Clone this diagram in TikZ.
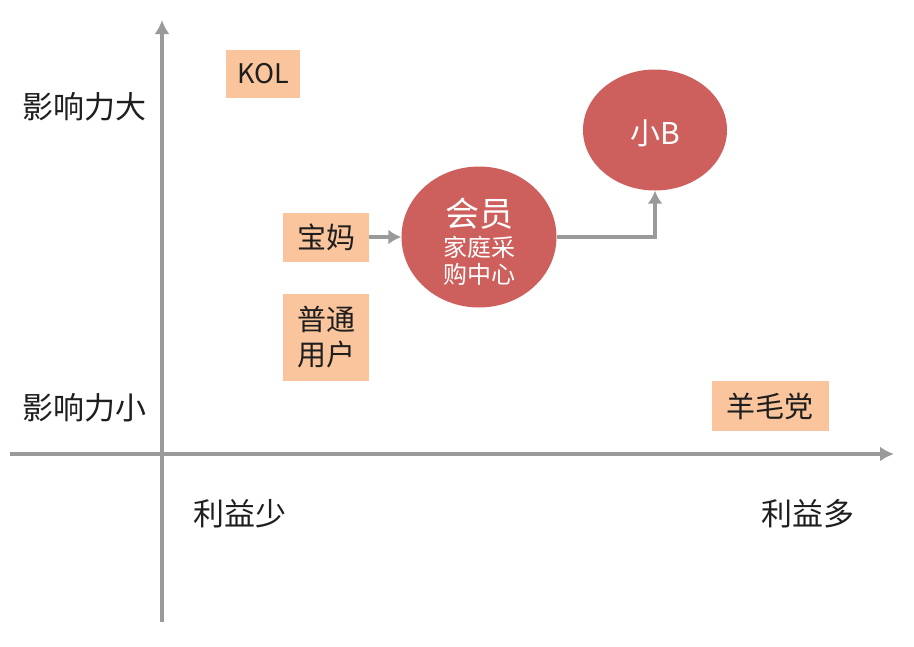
\documentclass[tikz,border=0pt]{standalone}
\usepackage{fontspec}
\setmainfont{Noto Sans CJK SC}
\usetikzlibrary{shapes.geometric,arrows.meta}
\definecolor{peach}{HTML}{FAC59C}
\definecolor{rosered}{HTML}{CD5F5C}
\definecolor{axisgray}{HTML}{9A9A9A}
\definecolor{ink}{HTML}{1E1E1E}
\tikzset{
  axisline/.style={draw=axisgray,line width=3.6pt,-{Latex[length=14pt,width=15pt]}},
  conn/.style={draw=axisgray,line width=3.6pt,-{Latex[length=13pt,width=15pt]}},
  tag/.style={fill=peach,inner sep=0pt,text=ink,font=\fontsize{29}{35}\selectfont,align=center},
  axlabel/.style={text=ink,inner sep=0pt,font=\fontsize{31}{34}\selectfont},
  bubble/.style={ellipse,fill=rosered,inner sep=0pt},
  btext/.style={text=white,inner sep=0pt,align=center}
}
\begin{document}
\begin{tikzpicture}[x=1pt,y=-1pt]
\useasboundingbox (0,0) rectangle (914,646);
% axes
\coordinate (ybot) at (162,622);
\coordinate (ytop) at (162,20);
\coordinate (xl) at (10,454);
\coordinate (xr) at (894,454);
\draw[axisline] (ybot) -- (ytop);
\draw[axisline] (xl) -- (xr);
% axis labels
\node[axlabel] (ydabig) at (85,107) {影响力大};
\node[axlabel] (ydasmall) at (85,408) {影响力小};
\node[axlabel] (xlow) at (240,514) {利益少};
\node[axlabel] (xhigh) at (808,514) {利益多};
% tags
\node[tag,minimum width=74pt,minimum height=48pt,font=\fontsize{27}{30}\selectfont] (kol) at (263,74) {KOL};
\node[tag,minimum width=86pt,minimum height=49pt] (bm) at (326,237) {宝妈};
\node[tag,minimum width=86pt,minimum height=87pt] (pt) at (326,337) {普通\\用户};
\node[tag,minimum width=117pt,minimum height=50pt] (ymd) at (770,406) {羊毛党};
% bubbles
\node[bubble,minimum width=155pt,minimum height=141pt] (hy) at (479,237) {};
\node[btext,font=\fontsize{34}{36}\selectfont] (hyt) at (479,214) {会员};
\node[btext,font=\fontsize{24}{27}\selectfont] (hys) at (479,261) {家庭采\\购中心};
\node[bubble,minimum width=144pt,minimum height=121pt] (xb) at (655,130) {};
\node[btext,font=\fontsize{30}{32}\selectfont] (xbt) at (655,133) {小B};
% connectors
\draw[conn] (bm.east) -- (hy.west);
\draw[conn] (hy.east) -| (xb.south);
\end{tikzpicture}
\end{document}
